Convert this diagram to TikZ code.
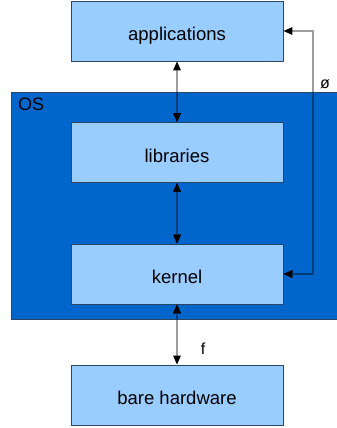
\documentclass[tikz,border=0pt]{standalone}
\usepackage{fontspec}
\setmainfont{Liberation Sans}
\usetikzlibrary{arrows.meta}
\definecolor{boxfill}{HTML}{99CCFF}
\definecolor{boxline}{HTML}{2B4563}
\definecolor{osfill}{HTML}{0066CC}
\definecolor{linkout}{HTML}{9E9E9E}
\definecolor{linkin}{HTML}{003D7A}
\tikzset{
  layer/.style={draw=boxline, fill=boxfill, line width=0.9pt, minimum width=212pt, minimum height=60pt, inner sep=0pt, text height=19pt, text depth=0pt, font=\fontsize{18.5}{22}\selectfont},
  link/.style={draw=#1, line width=1.6pt, {Triangle[length=9pt,width=7.5pt,color=black]}-{Triangle[length=9pt,width=7.5pt,color=black]}},
  link/.default=linkout,
  lbl/.style={font=\fontsize{16}{19}\selectfont, inner sep=0pt}
}
\begin{document}
\begin{tikzpicture}[x=1pt,y=-1pt]
\useasboundingbox (0,0) rectangle (337,428);
\node[draw=boxline, fill=osfill, line width=0.9pt, minimum width=330pt, minimum height=227pt, inner sep=0pt, anchor=north west] (os) at (11,92) {};
\node[font=\fontsize{18}{22}\selectfont, anchor=west, inner sep=0pt] (oslabel) at (18,104.5) {OS};
\node[layer] (app) at (177,31) {applications};
\node[layer] (lib) at (177,152.5) {libraries};
\node[layer] (ker) at (177,274) {kernel};
\node[layer] (hw) at (177,395) {bare hardware};
\coordinate (c1) at (313,274);
\coordinate (c2) at (313,31);
\draw[link] (app.south) -- (lib.north);
\draw[link] (lib.south) -- (ker.north);
\draw[link] (ker.south) -- (hw.north);
\draw[link] (ker.east) -- (c1) -- (c2) -- (app.east);
\begin{scope}
\clip (os.north west) rectangle (os.south east);
\draw[link=linkin] (app.south) -- (lib.north);
\draw[link=linkin] (lib.south) -- (ker.north);
\draw[link=linkin] (ker.south) -- (hw.north);
\draw[link=linkin] (ker.east) -- (c1) -- (c2) -- (app.east);
\end{scope}
\node[lbl] (phi) at (325,84) {ø};
\node[lbl] (f) at (203,348.5) {f};
\end{tikzpicture}
\end{document}
